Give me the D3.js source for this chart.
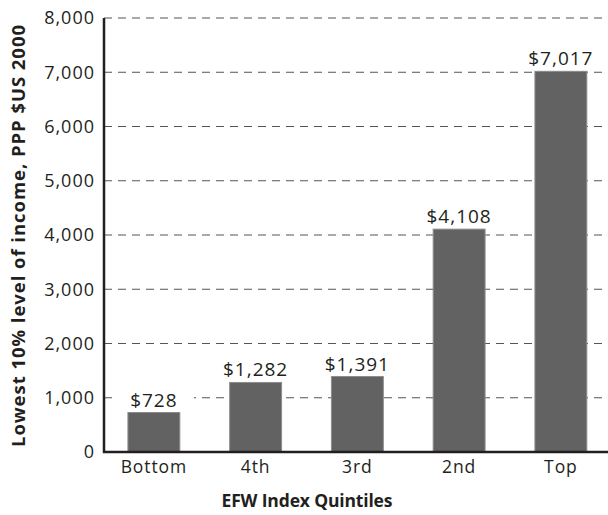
<!DOCTYPE html>
<html>
<head>
<meta charset="utf-8">
<script src="https://cdn.jsdelivr.net/npm/d3@7/dist/d3.min.js"></script>
<style>
  html, body { margin: 0; padding: 0; background: #fff; }
  svg { display: block; }
  text { font-family: "Open Sans", "Noto Sans", sans-serif; fill: #231f20; }
</style>
</head>
<body>
<svg id="chart" width="608" height="515"></svg>
<script>
// Lowest 10% income level by EFW index quintile (PPP, $US 2000)
const categories = ["Bottom", "4th", "3rd", "2nd", "Top"];
const values = [728, 1282, 1391, 4108, 7017];
const yTicks = [0, 1000, 2000, 3000, 4000, 5000, 6000, 7000, 8000];

const svg = d3.select("#chart");
const plotLeft = 104, plotRight = 608, plotTop = 18, plotBottom = 452;

const x = d3.scaleBand()
  .domain(categories)
  .range([plotLeft - 1, plotLeft - 1 + 5 * 101.75])
  .paddingInner(0.49)
  .paddingOuter(0.245);

const y = d3.scaleLinear().domain([0, 8000]).range([plotBottom, plotTop]);

// dashed gridlines
svg.append("g")
  .selectAll("line")
  .data(yTicks.filter(d => d > 0))
  .join("line")
  .attr("x1", plotLeft).attr("x2", plotRight)
  .attr("y1", d => y(d)).attr("y2", d => y(d))
  .attr("stroke", "#555")
  .attr("stroke-width", 1.2)
  .attr("stroke-dasharray", "8,6");

// bars
svg.append("g")
  .selectAll("rect")
  .data(values)
  .join("rect")
  .attr("x", (d, i) => x(categories[i]))
  .attr("y", d => y(d))
  .attr("width", x.bandwidth())
  .attr("height", d => plotBottom - y(d))
  .attr("fill", "#626262")
  .attr("stroke", "#8c8c8c")
  .attr("stroke-width", 1);

// value labels with a white backing box
const fmt = d3.format(",");
const labels = svg.append("g")
  .selectAll("g")
  .data(values)
  .join("g")
  .attr("transform", (d, i) => `translate(${x(categories[i]) + x.bandwidth() / 2},${y(d) - 6})`);

labels.append("rect")
  .attr("x", -40).attr("y", -20)
  .attr("width", 80).attr("height", 22)
  .attr("fill", "#fff");

labels.append("text")
  .attr("text-anchor", "middle")
  .attr("font-size", 19)
  .attr("letter-spacing", 1)
  .text(d => "$" + fmt(d));

// y axis
const yAxis = d3.axisLeft(y)
  .tickValues(yTicks)
  .tickSize(0)
  .tickPadding(9)
  .tickFormat(d3.format(","));

const gy = svg.append("g")
  .attr("transform", `translate(${plotLeft},0)`)
  .call(yAxis);
gy.select(".domain").remove();
gy.selectAll("text")
  .attr("font-size", 18)
  .attr("letter-spacing", 1)
  .attr("fill", "#231f20")
  .style("font-family", "'Open Sans', sans-serif");

// x axis
const xAxis = d3.axisBottom(x).tickSize(0).tickPadding(9);
const gx = svg.append("g")
  .attr("transform", `translate(0,${plotBottom})`)
  .call(xAxis);
gx.select(".domain").remove();
gx.selectAll("text")
  .attr("font-size", 17.5)
  .attr("letter-spacing", 0.9)
  .attr("fill", "#231f20")
  .style("font-family", "'Open Sans', sans-serif");

// axis lines
svg.append("line")
  .attr("x1", plotLeft).attr("x2", plotLeft)
  .attr("y1", plotTop).attr("y2", plotBottom + 1)
  .attr("stroke", "#231f20").attr("stroke-width", 2.5);
svg.append("line")
  .attr("x1", plotLeft - 1).attr("x2", plotRight)
  .attr("y1", plotBottom).attr("y2", plotBottom)
  .attr("stroke", "#231f20").attr("stroke-width", 2.5);

// axis titles
svg.append("text")
  .attr("x", 307).attr("y", 507)
  .attr("text-anchor", "middle")
  .attr("font-size", 17.5)
  .attr("font-weight", "bold")
  .attr("textLength", 171)
  .attr("lengthAdjust", "spacing")
  .text("EFW Index Quintiles");

svg.append("text")
  .attr("transform", "translate(25,236) rotate(-90)")
  .attr("text-anchor", "middle")
  .attr("font-size", 18.5)
  .attr("font-weight", "bold")
  .attr("textLength", 422)
  .attr("lengthAdjust", "spacing")
  .text("Lowest 10% level of income,  PPP $US 2000");
</script>
</body>
</html>
